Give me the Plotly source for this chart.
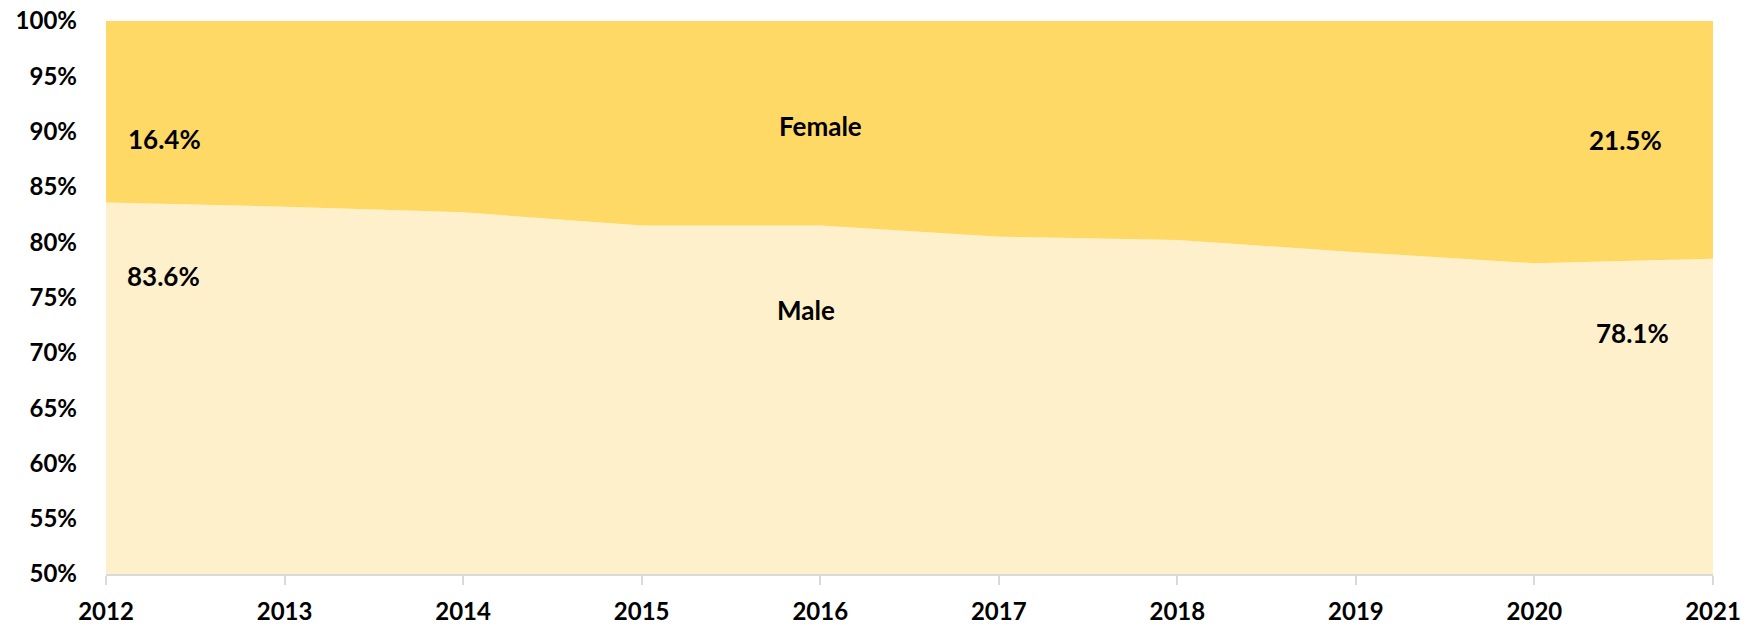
import plotly.graph_objects as go

years = [2012, 2013, 2014, 2015, 2016, 2017, 2018, 2019, 2020, 2021]
male = [83.6, 83.2, 82.7, 81.5, 81.5, 80.5, 80.2, 79.1, 78.1, 78.5]
female = [16.4, 16.8, 17.3, 18.5, 18.5, 19.5, 19.8, 20.9, 21.9, 21.5]
y_ticks = [50, 55, 60, 65, 70, 75, 80, 85, 90, 95, 100]

FONT = "Lato"
fig = go.Figure()
fig.add_trace(go.Scatter(x=years, y=male, name="Male", stackgroup="one",
                         mode="none", fillcolor="#FFF0CC", line=dict(width=0)))
fig.add_trace(go.Scatter(x=years, y=female, name="Female", stackgroup="one",
                         mode="none", fillcolor="#FFD966", line=dict(width=0)))

annots = [
    ("16.4%", 2012.33, 89.3),
    ("83.6%", 2012.32, 76.9),
    ("Female", 2016.0, 90.5),
    ("Male", 2015.92, 73.9),
    ("21.5%", 2020.51, 89.2),
    ("78.1%", 2020.55, 71.8),
]
for t, x, y in annots:
    fig.add_annotation(x=x, y=y, text=f"<b>{t}</b>", showarrow=False,
                       font=dict(family=FONT, size=26, color="#000000"))

fig.update_layout(
    width=1745, height=620,
    margin=dict(l=98, r=40, t=13, b=54, autoexpand=False),
    paper_bgcolor="white", plot_bgcolor="white",
    showlegend=False,
    font=dict(family=FONT, size=24, color="#000000"),
)
fig.update_xaxes(range=[2012, 2021], tickvals=years,
                 ticktext=[f"<b>{y}</b>" for y in years],
                 showgrid=False, zeroline=False, showline=True,
                 linecolor="#D9D9D9", linewidth=1.5,
                 ticks="outside", ticklen=9, tickcolor="#D9D9D9", tickwidth=1.5,
                 ticklabelstandoff=6, automargin=False, ticklabeloverflow="allow")
fig.update_yaxes(range=[50, 100], tickvals=y_ticks,
                 ticktext=[f"<b>{v}%</b>" for v in y_ticks],
                 showgrid=False, zeroline=False, showline=False, ticks="",
                 ticklabelstandoff=28, automargin=False, ticklabeloverflow="allow")

fig.write_html("out.html")
